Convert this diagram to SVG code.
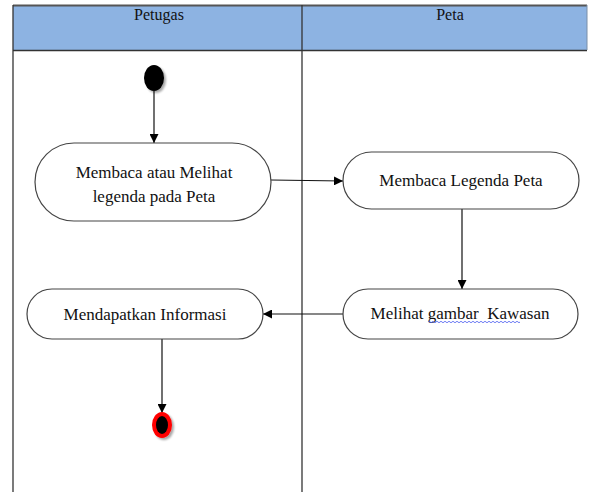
<svg xmlns="http://www.w3.org/2000/svg" width="589" height="492" viewBox="0 0 589 492">
  <style>
    .lane { fill: none; stroke: #333; stroke-width: 1.3; }
    .node rect { fill: #fff; stroke: #444; stroke-width: 1.2; }
    text { font-family: "Times New Roman", "Liberation Serif", Tinos, "DejaVu Serif", serif; fill: #111; text-anchor: middle; }
    .lbl { font-size: 17px; }
    .hdr { font-size: 16px; }
    .edge { fill: none; stroke: #111; stroke-width: 1.2; }
  </style>
  <defs>
    <marker id="arrow" viewBox="0 0 10 10" refX="10" refY="5" markerWidth="9" markerHeight="9" markerUnits="userSpaceOnUse" orient="auto">
      <path d="M0,0 L10,5 L0,10 Z" fill="#000"/>
    </marker>
    <filter id="shadow" x="-50%" y="-50%" width="200%" height="200%">
      <feGaussianBlur in="SourceAlpha" stdDeviation="1.2"/>
      <feOffset dx="2" dy="2"/>
      <feComponentTransfer><feFuncA type="linear" slope="0.35"/></feComponentTransfer>
      <feMerge><feMergeNode/><feMergeNode in="SourceGraphic"/></feMerge>
    </filter>
  </defs>
  <rect width="589" height="492" fill="#fff"/>

  <!-- swimlane header -->
  <g id="lanes">
    <rect x="13" y="5" width="574" height="45" fill="#8DB3E2"/>
    <line x1="13" y1="5.5" x2="587" y2="5.5" stroke="#555" stroke-width="2"/>
    <line x1="13" y1="50.5" x2="587" y2="50.5" class="lane"/>
    <line x1="587" y1="5" x2="587" y2="50" stroke="#7a8fa8" stroke-width="1"/>
    <line x1="13" y1="5" x2="13" y2="492" class="lane"/>
    <line x1="302" y1="5" x2="302" y2="492" class="lane"/>
    <text class="hdr" x="159" y="20">Petugas</text>
    <text class="hdr" x="450" y="20">Peta</text>
  </g>

  <!-- connectors -->
  <g id="connectors">
    <line class="edge" x1="154" y1="91" x2="154" y2="143" marker-end="url(#arrow)"/>
    <line class="edge" x1="271" y1="180" x2="343" y2="181" marker-end="url(#arrow)"/>
    <line class="edge" x1="462" y1="209" x2="462" y2="289" marker-end="url(#arrow)"/>
    <line class="edge" x1="343" y1="314" x2="263" y2="314" marker-end="url(#arrow)"/>
    <line class="edge" x1="162" y1="339" x2="162" y2="413" marker-end="url(#arrow)"/>
  </g>

  <!-- initial state -->
  <g id="start">
    <ellipse cx="154" cy="78" rx="10" ry="13" fill="#000" filter="url(#shadow)"/>
  </g>

  <g id="node-membaca" class="node">
    <rect x="35" y="143" width="236" height="78" rx="39" ry="39"/>
    <text class="lbl" x="154" y="178">Membaca atau Melihat</text>
    <text class="lbl" x="154" y="202">legenda pada Peta</text>
  </g>

  <g id="node-legenda" class="node">
    <rect x="343" y="152" width="236" height="57" rx="28.5" ry="28.5"/>
    <text class="lbl" x="461" y="186">Membaca Legenda Peta</text>
  </g>

  <g id="node-gambar" class="node">
    <rect x="343" y="289" width="235" height="50" rx="25" ry="25"/>
    <text class="lbl" x="460" y="319" xml:space="preserve">Melihat gambar  Kawasan</text>
    <!-- spell-check squiggle under the last two words -->
    <path d="M428,322 q1,-1.5 2,0 t2,0 t2,0 t2,0 t2,0 t2,0 t2,0 t2,0 t2,0 t2,0 t2,0 t2,0 t2,0 t2,0 t2,0 t2,0 t2,0 t2,0 t2,0 t2,0 t2,0 t2,0 t2,0 t2,0 t2,0 t2,0 t2,0 t2,0 t2,0 t2,0 t2,0 t2,0 t2,0 t2,0 t2,0 t2,0 t2,0 t2,0 t2,0 t2,0 t2,0 t2,0 t2,0 t2,0 t2,0 t2,0" fill="none" stroke="#4a5cf0" stroke-width="0.8"/>
  </g>

  <g id="node-informasi" class="node">
    <rect x="27" y="289" width="236" height="50" rx="25" ry="25"/>
    <text class="lbl" x="145" y="320">Mendapatkan Informasi</text>
  </g>

  <!-- final state -->
  <g id="end">
    <ellipse cx="162" cy="425" rx="10" ry="13" fill="#f00" filter="url(#shadow)"/>
    <ellipse cx="162" cy="425" rx="6" ry="9" fill="#000"/>
  </g>
</svg>
